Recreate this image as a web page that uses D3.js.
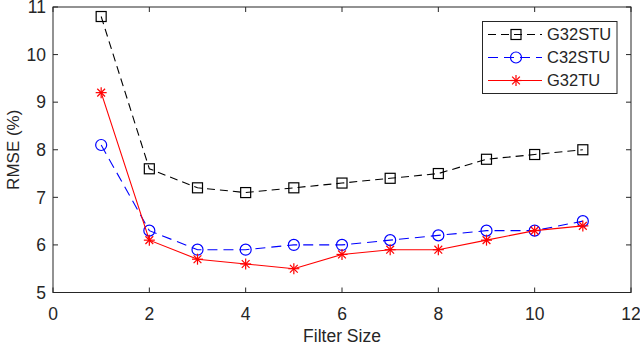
<!DOCTYPE html>
<html>
<head>
<meta charset="utf-8">
<script src="https://cdn.jsdelivr.net/npm/d3@7"></script>
<style>
  body { margin: 0; background: #fff; }
  svg text { font-family: "Liberation Sans", Arial, sans-serif; fill: #262626; }
</style>
</head>
<body>
<svg id="chart" width="640" height="346"></svg>
<script>
'use strict';

var filterSize = [1, 2, 3, 4, 5, 6, 7, 8, 9, 10, 11];
var g32stu = [10.8, 7.6, 7.2, 7.1, 7.2, 7.3, 7.4, 7.5, 7.8, 7.9, 8.0];
var c32stu = [8.1, 6.3, 5.9, 5.9, 6.0, 6.0, 6.1, 6.2, 6.3, 6.3, 6.5];
var g32tu = [9.2, 6.1, 5.7, 5.6, 5.5, 5.8, 5.9, 5.9, 6.1, 6.3, 6.4];
var xTicks = [0, 2, 4, 6, 8, 10, 12];
var yTicks = [5, 6, 7, 8, 9, 10, 11];

var series = [
  { name: 'G32STU', values: g32stu, color: '#000000', dash: '8,5', marker: 'square' },
  { name: 'C32STU', values: c32stu, color: '#0000ff', dash: '10,6', marker: 'circle' },
  { name: 'G32TU', values: g32tu, color: '#ff0000', dash: null, marker: 'star' }
];

var margin = { left: 53, right: 9, top: 7, bottom: 53.5 };
var width = 640, height = 346;
var axisColor = '#262626';
var tickFont = 17.5;

var svg = d3.select('#chart');

var x = d3.scaleLinear().domain([0, 12]).range([margin.left, width - margin.right]);
var y = d3.scaleLinear().domain([5, 11]).range([height - margin.bottom, margin.top]);

var x0 = x.range()[0], x1 = x.range()[1];
var y0 = y.range()[0], y1 = y.range()[1];

// box
svg.append('rect')
  .attr('x', x0).attr('y', y1)
  .attr('width', x1 - x0).attr('height', y0 - y1)
  .attr('fill', 'none')
  .attr('stroke', axisColor)
  .attr('stroke-width', 1);

// ticks (inward, on all four sides)
var tl = 5;
xTicks.forEach(function (t) {
  svg.append('line').attr('x1', x(t)).attr('x2', x(t)).attr('y1', y0).attr('y2', y0 - tl)
    .attr('stroke', axisColor);
  svg.append('line').attr('x1', x(t)).attr('x2', x(t)).attr('y1', y1).attr('y2', y1 + tl)
    .attr('stroke', axisColor);
  svg.append('text').attr('x', x(t)).attr('y', y0 + 27)
    .attr('text-anchor', 'middle').attr('font-size', tickFont).text(t);
});
yTicks.forEach(function (t) {
  svg.append('line').attr('x1', x0).attr('x2', x0 + tl).attr('y1', y(t)).attr('y2', y(t))
    .attr('stroke', axisColor);
  svg.append('line').attr('x1', x1).attr('x2', x1 - tl).attr('y1', y(t)).attr('y2', y(t))
    .attr('stroke', axisColor);
  svg.append('text').attr('x', x0 - 7).attr('y', y(t)).attr('dy', '0.36em')
    .attr('text-anchor', 'end').attr('font-size', tickFont).text(t);
});

svg.append('text')
  .attr('x', (x0 + x1) / 2).attr('y', 342)
  .attr('text-anchor', 'middle').attr('font-size', 17.5)
  .text('Filter Size');

svg.append('text')
  .attr('transform', 'translate(19,' + ((y0 + y1) / 2) + ') rotate(-90)')
  .attr('text-anchor', 'middle').attr('font-size', 17)
  .text('RMSE (%)');

function drawMarker(g, type, cx, cy, color) {
  if (type === 'square') {
    g.append('rect').attr('x', cx - 5).attr('y', cy - 5).attr('width', 10).attr('height', 10)
      .attr('fill', 'none').attr('stroke', color).attr('stroke-width', 1.2);
  } else if (type === 'circle') {
    g.append('circle').attr('cx', cx).attr('cy', cy).attr('r', 5.5)
      .attr('fill', 'none').attr('stroke', color).attr('stroke-width', 1.2);
  } else {
    var r = 5.5;
    [0, 45, 90, 135].forEach(function (a) {
      var rad = a * Math.PI / 180;
      g.append('line')
        .attr('x1', cx - r * Math.cos(rad)).attr('y1', cy - r * Math.sin(rad))
        .attr('x2', cx + r * Math.cos(rad)).attr('y2', cy + r * Math.sin(rad))
        .attr('stroke', color).attr('stroke-width', 1.2);
    });
  }
}

var line = d3.line()
  .x(function (d, i) { return x(filterSize[i]); })
  .y(function (d) { return y(d); });

series.forEach(function (s) {
  var g = svg.append('g');
  g.append('path')
    .attr('d', line(s.values))
    .attr('fill', 'none')
    .attr('stroke', s.color)
    .attr('stroke-width', 1.1)
    .attr('stroke-dasharray', s.dash);
  s.values.forEach(function (v, i) {
    drawMarker(g, s.marker, x(filterSize[i]), y(v), s.color);
  });
});

// legend
var lg = svg.append('g');
lg.append('rect')
  .attr('x', 482.5).attr('y', 21.5).attr('width', 134.5).attr('height', 72)
  .attr('fill', '#fff').attr('stroke', axisColor).attr('stroke-width', 1);

series.forEach(function (s, i) {
  var cy = 34.5 + i * 23;
  lg.append('line')
    .attr('x1', 488).attr('x2', 542).attr('y1', cy).attr('y2', cy)
    .attr('stroke', s.color).attr('stroke-width', 1.1)
    .attr('stroke-dasharray', s.dash);
  drawMarker(lg, s.marker, 516, cy, s.color);
  lg.append('text').attr('x', 547).attr('y', cy).attr('dy', '0.36em')
    .attr('font-size', 16.5).text(s.name);
});
</script>
</body>
</html>
